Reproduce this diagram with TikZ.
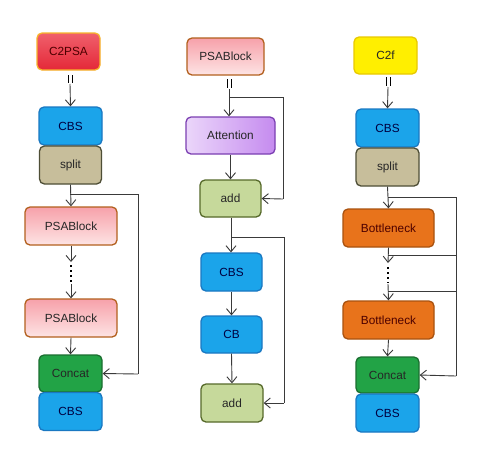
\documentclass[tikz,border=0pt]{standalone}
\usepackage{fontspec}
\setmainfont{Liberation Sans}
\usetikzlibrary{arrows.meta}
\definecolor{cbsfill}{HTML}{1BA4EA}
\definecolor{cbsdraw}{HTML}{1A78C2}
\definecolor{splitfill}{HTML}{C7BE9B}
\definecolor{splitdraw}{HTML}{4E4E36}
\definecolor{psatop}{HTML}{F7A1AA}
\definecolor{psabot}{HTML}{FDE4E4}
\definecolor{psadraw}{HTML}{B3601E}
\definecolor{concatfill}{HTML}{22A346}
\definecolor{concatdraw}{HTML}{1B6E30}
\definecolor{c2top}{HTML}{F0606C}
\definecolor{c2bot}{HTML}{E42838}
\definecolor{c2draw}{HTML}{F7B52A}
\definecolor{attl}{HTML}{EBD6FA}
\definecolor{attr}{HTML}{C58BEF}
\definecolor{attdraw}{HTML}{7B3FB2}
\definecolor{addfill}{HTML}{C6D99B}
\definecolor{adddraw}{HTML}{56692A}
\definecolor{c2ffill}{HTML}{FFEF00}
\definecolor{c2fdraw}{HTML}{E8C900}
\definecolor{botfill}{HTML}{E8731B}
\definecolor{botdraw}{HTML}{A9520F}
\definecolor{linec}{HTML}{3A3A3A}
\tikzset{
  blk/.style={rounded corners=5pt, line width=1.3pt, inner sep=0pt, font=\fontsize{11.8pt}{14pt}\selectfont, text=black!85},
  cbs/.style={blk, fill=cbsfill, draw=cbsdraw, text=black!75!blue},
  splitbox/.style={blk, fill=splitfill, draw=splitdraw},
  psab/.style={blk, top color=psatop, bottom color=psabot, draw=psadraw},
  concatbox/.style={blk, fill=concatfill, draw=concatdraw},
  c2psa/.style={blk, top color=c2top, bottom color=c2bot, draw=c2draw, text=black!70!red},
  att/.style={blk, left color=attl, right color=attr, draw=attdraw},
  addbox/.style={blk, fill=addfill, draw=adddraw},
  c2fbox/.style={blk, fill=c2ffill, draw=c2fdraw},
  botbox/.style={blk, fill=botfill, draw=botdraw, text=black!70!red},
  ln/.style={draw=linec, line width=0.9pt},
  arr/.style={ln, -{Straight Barb[length=6pt,width=10pt]}},
  dotsline/.style={draw=black, line width=1.6pt, dash pattern=on 1.6pt off 3.4pt},
  tick/.style={draw=black, line width=1pt}
}
\newcommand{\bx}[6]{\node[#1, minimum width=#4pt, minimum height=#5pt] (#2) at (#3) {#6};}
\begin{document}
\begin{tikzpicture}[x=1pt,y=-1pt]
\useasboundingbox[fill=white] (0,0) rectangle (484,456);
% ---------- left column ----------
\bx{c2psa}{a1}{68.5,51.5}{63}{37}{C2PSA}
\bx{cbs}{a2}{70.5,126}{63}{38}{CBS}
\bx{splitbox}{a3}{70.5,165}{62}{38}{split}
\bx{psab}{a4}{71,226}{92}{38}{PSABlock}
\bx{psab}{a5}{71,318}{92}{38}{PSABlock}
\bx{concatbox}{a6}{70.5,373.5}{63}{37}{Concat}
\bx{cbs}{a7}{70.5,411.5}{63}{38}{CBS}
\draw[tick] (68,75) -- (68,83) (72,75) -- (72,83);
\draw[arr] (70,84) -- (a2.north);
\draw[arr] (a3.south) -- (a4.north);
\coordinate (la) at (70,194);
\coordinate (lb) at (138,194);
\coordinate (lc) at (138,374);
\draw[ln] (la) -- (lb) -- (lc);
\draw[arr] (lc) -- (a6.east);
\coordinate (ld1) at (71,262);
\coordinate (ld2) at (71,284);
\draw[arr] (a4.south) -- (ld1);
\draw[dotsline] (71,265) -- (71,282);
\draw[arr] (ld2) -- (a5.north);
\draw[arr] (a5.south) -- (a6.north);
% ---------- middle column ----------
\bx{psab}{b1}{225.5,56.5}{77}{37}{PSABlock}
\bx{att}{b2}{230.5,135.5}{89}{37}{Attention}
\bx{addbox}{b3}{230.5,198.5}{61}{37}{add}
\bx{cbs}{b4}{231.5,272}{61}{38}{CBS}
\bx{cbs}{b5}{231.5,334.5}{61}{37}{CB}
\bx{addbox}{b6}{232,403}{62}{38}{add}
\draw[tick] (227,79) -- (227,88) (231,79) -- (231,88);
\coordinate (ma) at (229,89);
\coordinate (mb) at (229,97);
\coordinate (mc) at (283,97);
\coordinate (md) at (283,199);
\draw[arr] (ma) -- (b2.north -| ma);
\draw[ln] (mb) -- (mc) -- (md);
\draw[arr] (md) -- (b3.east);
\draw[arr] (b2.south) -- (b3.north);
\coordinate (me) at (231,237);
\coordinate (mf) at (284,237);
\coordinate (mg) at (284,403);
\draw[arr] (b3.south -| me) -- (b4.north -| me);
\draw[ln] (me) -- (mf) -- (mg);
\draw[arr] (mg) -- (b6.east);
\draw[arr] (b4.south) -- (b5.north);
\draw[arr] (b5.south) -- (b6.north);
% ---------- right column ----------
\bx{c2fbox}{c1}{385.5,55.5}{63}{37}{C2f}
\bx{cbs}{c2}{387.5,128}{63}{38}{CBS}
\bx{splitbox}{c3}{387.5,167}{63}{38}{split}
\bx{botbox}{c4}{388.5,228}{91}{38}{Bottleneck}
\bx{botbox}{c5}{388.5,320}{91}{38}{Bottleneck}
\bx{concatbox}{c6}{387.5,375}{63}{36}{Concat}
\bx{cbs}{c7}{387.5,413}{63}{38}{CBS}
\draw[tick] (386,77) -- (386,86) (390,77) -- (390,86);
\draw[arr] (388,87) -- (c2.north);
\draw[arr] (c3.south) -- (c4.north);
\coordinate (ra) at (388,197);
\coordinate (rb) at (456,197);
\coordinate (rc) at (456,376);
\draw[ln] (ra) -- (rb) -- (rc);
\draw[arr] (rc) -- (c6.east);
\coordinate (rd) at (388,255);
\coordinate (re) at (456,255);
\coordinate (rf) at (388,291);
\coordinate (rg) at (456,291);
\coordinate (rh) at (388,263);
\coordinate (ri) at (388,284);
\draw[arr] (c4.south) -- (rh);
\draw[ln] (rd) -- (re);
\draw[dotsline] (388,267) -- (388,283);
\draw[arr] (ri) -- (c5.north);
\draw[ln] (rf) -- (rg);
\draw[arr] (c5.south) -- (c6.north);
\end{tikzpicture}
\end{document}
